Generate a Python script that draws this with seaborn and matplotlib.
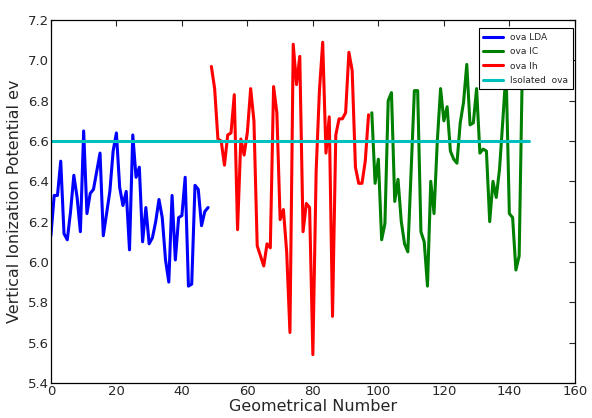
import matplotlib
matplotlib.use("Agg")
import matplotlib.pyplot as plt
import seaborn as sns
import pandas as pd
import numpy as np

lda_values = [6.13, 6.33, 6.33, 6.50, 6.14, 6.11, 6.25, 6.43, 6.32, 6.15,
              6.65, 6.24, 6.34, 6.36, 6.45, 6.54, 6.13, 6.24, 6.35, 6.55,
              6.64, 6.37, 6.28, 6.35, 6.06, 6.63, 6.42, 6.47, 6.10, 6.27,
              6.09, 6.12, 6.20, 6.31, 6.22, 6.01, 5.90, 6.33, 6.01, 6.22,
              6.23, 6.42, 5.88, 5.89, 6.38, 6.36, 6.18, 6.25, 6.27]
lh_values = [6.97, 6.86, 6.61, 6.60, 6.48, 6.63, 6.64, 6.83, 6.16, 6.61,
             6.53, 6.645, 6.86, 6.70, 6.08, 6.03, 5.98, 6.09, 6.07, 6.87,
             6.74, 6.21, 6.26, 6.05, 5.65, 7.08, 6.88, 7.02, 6.15, 6.29,
             6.27, 5.54, 6.45, 6.85, 7.09, 6.54, 6.72, 5.73, 6.63, 6.71,
             6.71, 6.74, 7.04, 6.95, 6.47, 6.39, 6.39, 6.50, 6.73]
ic_values = [6.74, 6.39, 6.51, 6.11, 6.19, 6.80, 6.84, 6.30, 6.41, 6.20,
             6.09, 6.05, 6.45, 6.85, 6.85, 6.15, 6.10, 5.88, 6.40, 6.24,
             6.60, 6.86, 6.70, 6.77, 6.55, 6.51, 6.49, 6.69, 6.79, 6.98,
             6.68, 6.69, 6.86, 6.54, 6.56, 6.55, 6.20, 6.40, 6.32, 6.46,
             6.70, 6.95, 6.24, 6.22, 5.96, 6.03, 7.00]
isolated_value = 6.60
isolated_x = [0, 146]

lda_x = list(range(0, len(lda_values)))
lh_x = list(range(len(lda_values), len(lda_values) + len(lh_values)))
ic_start = len(lda_values) + len(lh_values)
ic_x = list(range(ic_start, ic_start + len(ic_values)))

df_lda = pd.DataFrame({"x": lda_x, "y": lda_values})
df_ic = pd.DataFrame({"x": ic_x, "y": ic_values})
df_lh = pd.DataFrame({"x": lh_x, "y": lh_values})
df_iso = pd.DataFrame({"x": isolated_x, "y": [isolated_value] * len(isolated_x)})

sns.set_style("white")
plt.rcParams['font.family'] = ['DejaVu Sans']

fig = plt.figure(figsize=(5.92, 4.18), dpi=100)
ax = fig.add_axes([0.086, 0.084, 0.885, 0.868])

lw = 2.2
sns.lineplot(data=df_lda, x="x", y="y", ax=ax, color="blue", lw=lw, label="ova LDA")
sns.lineplot(data=df_ic, x="x", y="y", ax=ax, color="green", lw=lw, label="ova IC")
sns.lineplot(data=df_lh, x="x", y="y", ax=ax, color="red", lw=lw, label="ova Ih")
sns.lineplot(data=df_iso, x="x", y="y", ax=ax, color="#00bfbf", lw=lw, label="Isolated  ova")

ax.set_xlim(0, 160)
ax.set_ylim(5.4, 7.2)
ax.set_xticks(np.arange(0, 161, 20))
ax.set_yticks(np.arange(5.4, 7.21, 0.2))
ax.set_yticklabels([f"{v:.1f}" for v in np.arange(5.4, 7.21, 0.2)])
ax.tick_params(direction="in", top=True, right=True, length=4, width=0.8,
               labelsize=9.5, pad=1.5)
for s in ax.spines.values():
    s.set_color("black")
    s.set_linewidth(0.9)
ax.set_xlabel("Geometrical Number", fontsize=11.5, labelpad=1)
ax.set_ylabel("Vertical Ionization Potential ev", fontsize=11.5, labelpad=4)

leg = ax.legend(loc="upper right", bbox_to_anchor=(1.005, 0.99), fontsize=6.5,
                fancybox=False, framealpha=1, edgecolor="black",
                handlelength=2.2, borderpad=0.5, labelspacing=0.6)
leg.get_frame().set_linewidth(0.8)

fig.savefig("out.png", dpi=100)
